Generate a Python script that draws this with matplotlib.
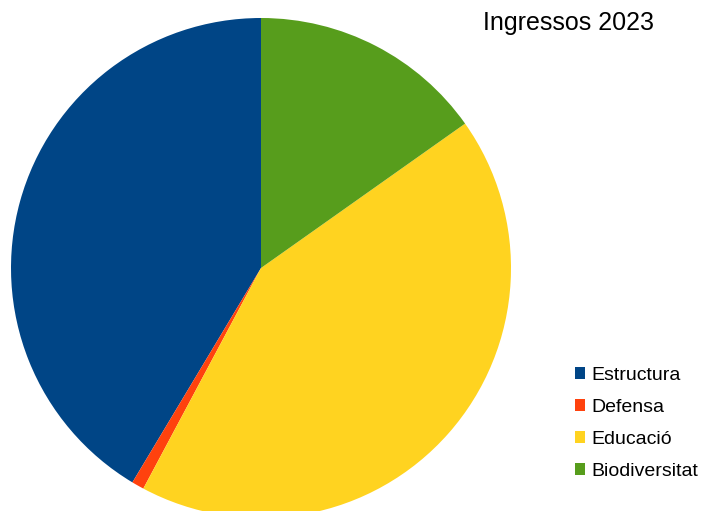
import matplotlib
matplotlib.use("Agg")
import matplotlib.pyplot as plt
from matplotlib.patches import Patch

plt.rcParams["font.family"] = ["Liberation Sans", "DejaVu Sans"]

categories = ["Estructura", "Defensa", "Educació", "Biodiversitat"]
values = [41.4, 0.8, 42.6, 15.2]
colors = ["#004586", "#ff420e", "#ffd320", "#579d1c"]
title = "Ingressos 2023"

W, H = 702, 511
fig = plt.figure(figsize=(W / 100, H / 100), dpi=100)

# pie: centre (261, 268) px from top, radius 250 px
cx, cy, r = 261, 268, 250
ax = fig.add_axes([(cx - r) / W, (H - cy - r) / H, 2 * r / W, 2 * r / H])
ax.pie(values, colors=colors, startangle=90, counterclock=True,
       wedgeprops=dict(linewidth=0))
ax.set_xlim(-1, 1)
ax.set_ylim(-1, 1)
ax.set_aspect("equal")
ax.axis("off")

fig.text(568.5 / W, 1 - 23 / H, title, fontsize=18, ha="center", va="center")

handles = [Patch(facecolor=c, edgecolor="none") for c in colors]
fig.legend(handles, categories, loc="upper left",
           bbox_to_anchor=(567 / W, 1 - 359 / H), frameon=False,
           fontsize=14, handlelength=0.55, handleheight=0.55,
           handletextpad=0.3, labelspacing=0.77, borderaxespad=0)

fig.savefig("out.png", dpi=100)
